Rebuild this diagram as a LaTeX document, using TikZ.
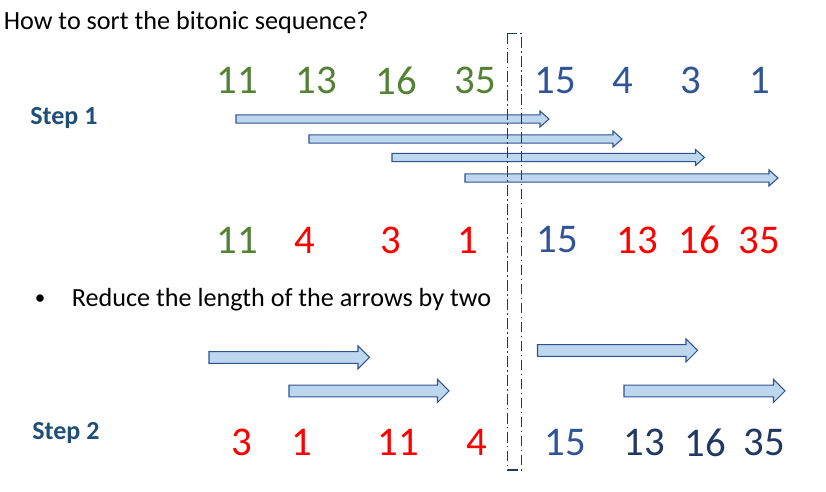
\documentclass[tikz,border=0pt]{standalone}
\usepackage{fontspec}
\setmainfont{Carlito}
\usepackage{xcolor}
\usepackage{tikz}

\definecolor{seqgreen}{HTML}{548235}
\definecolor{seqblue}{HTML}{2F5597}
\definecolor{seqnavy}{HTML}{203864}
\definecolor{stepblue}{HTML}{1F4E79}
\definecolor{arrowfill}{HTML}{BDD7EE}
\definecolor{arrowline}{HTML}{2F528F}

\tikzset{
  num/.style={font=\fontsize{23.2}{27}\selectfont, inner sep=0pt},
  txt/.style={font=\fontsize{14.9}{18}\selectfont, inner sep=0pt, anchor=base west},
  steplabel/.style={txt, font=\fontsize{14.8}{18}\selectfont\bfseries, text=stepblue},
  arrowbox/.style={fill=arrowfill, draw=arrowline, line width=0.6pt},
  splitbox/.style={draw=seqnavy, line width=0.6pt, dash pattern=on 6pt off 2pt on 0.8pt off 2pt}
}

% x1, x2, y, shaft half height, head length, head half width
\newcommand{\blockarrow}[6]{%
  \draw[arrowbox] (#1,#3-#4) -- (#2-#5,#3-#4) -- (#2-#5,#3-#6) -- (#2,#3)
    -- (#2-#5,#3+#6) -- (#2-#5,#3+#4) -- (#1,#3+#4) -- cycle;}

\begin{document}
\begin{tikzpicture}[x=0.02cm, y=-0.02cm]
        \useasboundingbox (0,0) rectangle (826,492);

        \node[txt] (title) at (3.5,30) {How to sort the bitonic sequence?};
        \node[steplabel] (step1) at (30,125) {Step 1};
        \node[steplabel] (step2) at (32,440) {Step 2};

        % first row
        \node[num, text=seqgreen] (t1) at (237,80.5) {11};
        \node[num, text=seqgreen] (t2) at (316,80.5) {13};
        \node[num, text=seqgreen] (t3) at (396,80.5) {16};
        \node[num, text=seqgreen] (t4) at (475,80.5) {35};
        \node[num, text=seqblue] (t5) at (555,80.5) {15};
        \node[num, text=seqblue] (t6) at (623,80.5) {4};
        \node[num, text=seqblue] (t7) at (691,80.5) {3};
        \node[num, text=seqblue] (t8) at (760,80.5) {1};

        \blockarrow{236}{549}{119}{4.2}{9}{8}
        \blockarrow{309}{622}{139}{4.2}{9}{8}
        \blockarrow{392}{704.5}{157.5}{4.2}{9}{8}
        \blockarrow{465}{778}{178}{4.2}{9}{8}

        % second row
        \node[num, text=seqgreen] (m1) at (237,240) {11};
        \node[num, text=red] (m2) at (305,240) {4};
        \node[num, text=red] (m3) at (391,240) {3};
        \node[num, text=red] (m4) at (468,240) {1};
        \node[num, text=seqblue] (m5) at (557,240) {15};
        \node[num, text=red] (m6) at (637,240) {13};
        \node[num, text=red] (m7) at (699,240) {16};
        \node[num, text=red] (m8) at (759,240) {35};

        \node[txt, anchor=base, font=\fontsize{12}{14}\selectfont] (dot) at (40,305) {•};
        \node[txt] (reduce) at (71.5,307) {Reduce the length of the arrows by two};

        \blockarrow{209}{369.5}{357.5}{5.8}{11.5}{11.5}
        \blockarrow{289}{449}{391}{5.8}{11.5}{11.5}
        \blockarrow{537.5}{697.5}{350.5}{5.8}{11.5}{11.5}
        \blockarrow{624}{785}{391}{5.8}{11.5}{11.5}

        % third row
        \node[num, text=red] (b1) at (242,442.5) {3};
        \node[num, text=red] (b2) at (301.5,442.5) {1};
        \node[num, text=red] (b3) at (398.5,442.5) {11};
        \node[num, text=red] (b4) at (476.5,442.5) {4};
        \node[num, text=seqblue] (b5) at (565,442.5) {15};
        \node[num, text=seqnavy] (b6) at (644,442.5) {13};
        \node[num, text=seqnavy] (b7) at (705,442.5) {16};
        \node[num, text=seqnavy] (b8) at (764,442.5) {35};

        \draw[splitbox] (507.5,33.5) rectangle (521.5,470);
    \end{tikzpicture}
\end{document}
